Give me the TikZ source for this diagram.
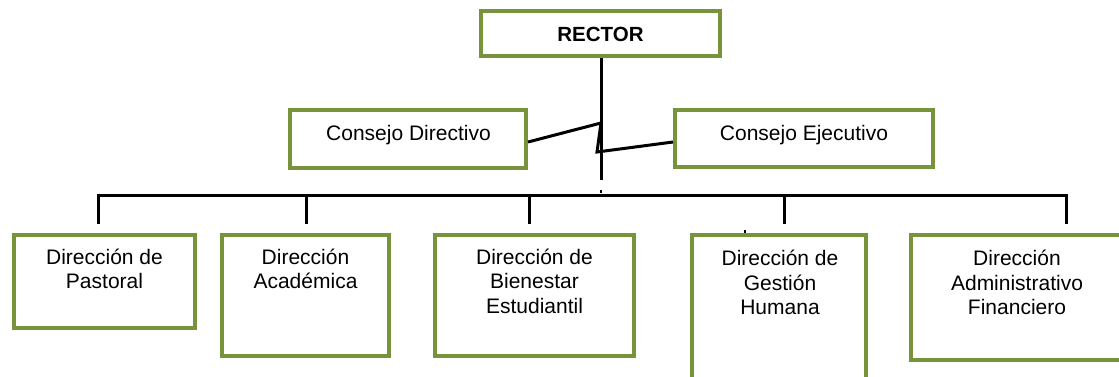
\documentclass[tikz,border=0pt]{standalone}
\usepackage{fontspec}
\setmainfont{Liberation Sans}
\definecolor{boxgreen}{RGB}{119,147,60}
\begin{document}
\begin{tikzpicture}[x=1pt,y=-1pt,
  box/.style={draw=boxgreen, line width=4pt, rectangle, inner sep=0pt},
  txt/.style={inner sep=0pt, align=center, font=\fontsize{21}{24.5}\selectfont},
  link/.style={draw=black, line width=3pt},
  speck/.style={fill=black, inner sep=0pt, minimum width=2pt, minimum height=3pt}]
\useasboundingbox (0,0) rectangle (1119,376);

% boxes
\node[box, minimum width=239pt, minimum height=45pt] (R) at (600.5,33.5) {};
\node[box, minimum width=236pt, minimum height=58pt] (CD) at (408,139) {};
\node[box, minimum width=258pt, minimum height=57pt] (CE) at (804,138.5) {};
\node[box, minimum width=181pt, minimum height=93pt] (B1) at (104.5,281.5) {};
\node[box, minimum width=167pt, minimum height=121pt] (B2) at (305.5,295.5) {};
\node[box, minimum width=199pt, minimum height=121pt] (B3) at (534.5,295.5) {};
\node[box, minimum width=174pt, minimum height=163pt] (B4) at (779,316.5) {};
\node[box, minimum width=212pt, minimum height=125pt] (B5) at (1017,297.5) {};

% texts
\node[txt, font=\fontsize{20.5}{24}\selectfont\bfseries, anchor=base] (tR) at (600.5,41) {RECTOR};
\node[txt, anchor=base] (tCD) at (408.5,140) {Consejo Directivo};
\node[txt, anchor=base] (tCE) at (804,140) {Consejo Ejecutivo};
\node[txt, anchor=north] (t1) at (104.5,243) {\rule{0pt}{21pt}Dirección de\\Pastoral};
\node[txt, anchor=north] (t2) at (305.5,243) {\rule{0pt}{21pt}Dirección\\Académica};
\node[txt, anchor=north] (t3) at (534.5,243) {\rule{0pt}{21pt}Dirección de\\Bienestar\\Estudiantil};
\node[txt, anchor=north] (t4) at (780,244.5) {\rule{0pt}{21pt}Dirección de\\Gestión\\Humana};
\node[txt, anchor=north] (t5) at (1017,244.5) {\rule{0pt}{21pt}Dirección\\Administrativo\\Financiero};

% connector coordinates
\coordinate (J1) at (601,123);
\coordinate (J2) at (597,152);
\coordinate (J3) at (601,180);
\coordinate (HL) at (98,195);
\coordinate (HR) at (1066,195);
\coordinate (K1) at (98,224);
\coordinate (K2) at (306,224);
\coordinate (K3) at (529,224);
\coordinate (K4) at (784,224);
\coordinate (K5) at (1066,224);

% connectors
\draw[link] (R.south -| J3) -- (J3);
\draw[link] ([yshift=-3pt]CD.east) -- (J1) -- (J2) -- ([yshift=-3.5pt]CE.west);
\draw[link] (K1) -- (HL) -- (HR) -- (K5);
\draw[link] (K2 |- HL) -- (K2);
\draw[link] (K3 |- HL) -- (K3);
\draw[link] (K4 |- HL) -- (K4);

% small specks
\node[speck] (s1) at (601,191) {};
\node[speck] (s2) at (745,231) {};
\end{tikzpicture}
\end{document}
